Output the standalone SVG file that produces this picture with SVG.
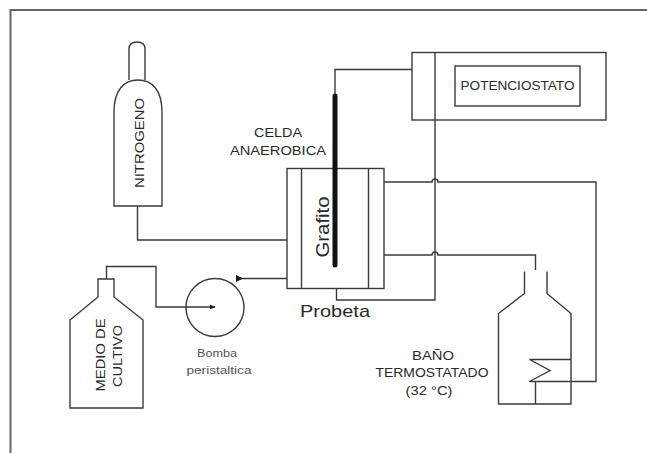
<svg xmlns="http://www.w3.org/2000/svg" width="647" height="453" viewBox="0 0 647 453">
  <style>
    .ln { fill: none; stroke: #3a3a3a; stroke-width: 1.4; stroke-linejoin: miter; }
    .sh { fill: #ffffff; stroke: #3a3a3a; stroke-width: 1.4; }
    .tx { font-family: "Liberation Sans", Arial, sans-serif; fill: #2a2a2a; }
    .sm { font-family: "Liberation Sans", Arial, sans-serif; fill: #555555; }
  </style>
  <defs>
    <marker id="arrow" viewBox="0 0 10 10" refX="9" refY="5" markerWidth="6" markerHeight="6" markerUnits="userSpaceOnUse" orient="auto">
      <path d="M0,1 L10,5 L0,9 Z" fill="#1a1a1a"/>
    </marker>
  </defs>

  <rect width="647" height="453" fill="#ffffff"/>

  <!-- page frame -->
  <path d="M10.5,453 V10 H647" fill="none" stroke="#666666" stroke-width="2"/>

  <!-- connectors -->
  <g id="connectors">
    <!-- nitrogen supply -->
    <path class="ln" d="M137.5,206 V240 H287"/>
    <!-- medium to pump -->
    <path class="ln" d="M106.5,279 V266.5 H156 V307 H215" marker-end="url(#arrow)"/>
    <!-- pump to cell -->
    <path class="ln" d="M236,278.5 H287"/>
    <path d="M236,275 L243,278.5 L236,282 Z" fill="#1a1a1a"/>
    <!-- potentiostat to graphite -->
    <path class="ln" d="M412,69.5 H335 V95"/>
    <!-- potentiostat to probe -->
    <path class="ln" d="M435,120 V300 H336.5 V288"/>
    <!-- jacket loop to bath, upper with hop -->
    <path class="ln" d="M384,182 H432 A3,3 0 0 1 438,182 H596 V381.5 H529.5"/>
    <!-- jacket loop to bath, lower with hop -->
    <path class="ln" d="M384,255 H432 A3,3 0 0 1 438,255 H535.5 V270"/>
  </g>

  <!-- nitrogen cylinder -->
  <g id="nitrogeno">
    <path class="sh" d="M129,80 V49 Q129,42 137,42 Q145,42 145,49 V80"/>
    <path class="sh" d="M114,206 V112 C114,90 124,80 138,80 C152,80 162,90 162,112 V206 Z"/>
    <text class="tx" font-size="13" text-anchor="middle" textLength="90" lengthAdjust="spacingAndGlyphs" transform="translate(143.5,143) rotate(-90)">NITROGENO</text>
  </g>

  <!-- potentiostat -->
  <g id="potenciostato">
    <rect class="sh" x="412" y="52.5" width="194" height="67.5"/>
    <line class="ln" x1="435" y1="52.5" x2="435" y2="120"/>
    <rect class="sh" x="455" y="66" width="125" height="40"/>
    <text class="tx" x="517.5" y="89.5" font-size="12.5" text-anchor="middle" textLength="114" lengthAdjust="spacingAndGlyphs">POTENCIOSTATO</text>
  </g>

  <!-- anaerobic cell -->
  <g id="celda">
    <text class="tx" x="278" y="137" font-size="13" text-anchor="middle" textLength="48" lengthAdjust="spacingAndGlyphs">CELDA</text>
    <text class="tx" x="278" y="155" font-size="13" text-anchor="middle" textLength="96" lengthAdjust="spacingAndGlyphs">ANAEROBICA</text>
    <rect class="sh" x="287" y="168.5" width="97" height="120"/>
    <line class="ln" x1="301.5" y1="168.5" x2="301.5" y2="288.5"/>
    <line class="ln" x1="368.5" y1="168.5" x2="368.5" y2="288.5"/>
    <text class="tx" font-size="18" text-anchor="middle" textLength="61" lengthAdjust="spacingAndGlyphs" transform="translate(329,227) rotate(-90)">Grafito</text>
    <line x1="335" y1="96" x2="335" y2="265" stroke="#111111" stroke-width="5" stroke-linecap="round"/>
    <text class="tx" x="335" y="317" font-size="17" text-anchor="middle" textLength="70" lengthAdjust="spacingAndGlyphs">Probeta</text>
  </g>

  <!-- culture medium bottle -->
  <g id="medio">
    <path class="sh" d="M70,408 V320 L98,297 V279 H114 V297 L143,320 V408 Z"/>
    <text class="tx" font-size="12.5" text-anchor="middle" textLength="73" lengthAdjust="spacingAndGlyphs" transform="translate(105,355) rotate(-90)">MEDIO DE</text>
    <text class="tx" font-size="12.5" text-anchor="middle" textLength="62" lengthAdjust="spacingAndGlyphs" transform="translate(121.5,356) rotate(-90)">CULTIVO</text>
  </g>

  <!-- peristaltic pump -->
  <g id="bomba">
    <circle class="ln" cx="215" cy="307.5" r="29"/>
    <text class="sm" x="217" y="357" font-size="10" text-anchor="middle" textLength="40" lengthAdjust="spacingAndGlyphs">Bomba</text>
    <text class="sm" x="219" y="374" font-size="10" text-anchor="middle" textLength="65" lengthAdjust="spacingAndGlyphs">peristaltica</text>
  </g>

  <!-- thermostatic bath -->
  <g id="bano">
    <path class="ln" d="M524.5,271.5 V293.5 L498.5,313.5 V404 H571 V313.5 L547,293.5 V271.5"/>
    <path class="ln" d="M571,359.5 H529.5 L550,370.5 L529.5,381.5"/>
    <path class="ln" d="M535.5,381.5 V404"/>
    <text class="tx" x="433" y="360" font-size="13" text-anchor="middle" textLength="42" lengthAdjust="spacingAndGlyphs">BAÑO</text>
    <text class="tx" x="432" y="377" font-size="13" text-anchor="middle" textLength="113" lengthAdjust="spacingAndGlyphs">TERMOSTATADO</text>
    <text class="tx" x="429" y="395" font-size="13" text-anchor="middle" textLength="47" lengthAdjust="spacingAndGlyphs">(32 °C)</text>
  </g>
</svg>
